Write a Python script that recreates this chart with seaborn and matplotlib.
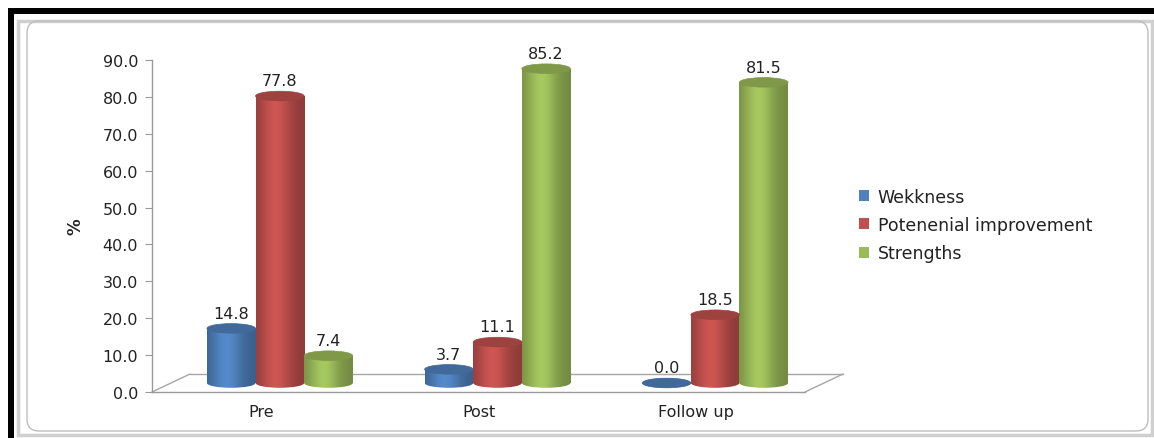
import numpy as np
import pandas as pd
import seaborn as sns
import matplotlib.pyplot as plt
import matplotlib.transforms as mtransforms
from matplotlib.patches import Ellipse, Rectangle, FancyBboxPatch
from matplotlib.lines import Line2D
from matplotlib.colors import to_rgb

# data
stages = ["Pre", "Post", "Follow up"]
groups = ["Wekkness", "Potenenial improvement", "Strengths"]
weakness = [14.8, 3.7, 0.0]
potential = [77.8, 11.1, 18.5]
strengths = [7.4, 85.2, 81.5]
colors = ["#4F81BD", "#C0504D", "#9BBB59"]

df = pd.DataFrame({
    "stage": stages * 3,
    "group": [groups[0]] * 3 + [groups[1]] * 3 + [groups[2]] * 3,
    "value": weakness + potential + strengths,
})

sns.set_style("white")
plt.rcParams['font.family'] = ['DejaVu Sans']

fig = plt.figure(figsize=(11.54, 4.39), dpi=100)
fig.patch.set_facecolor('white')
ax = fig.add_axes([152 / 1154, 1 - 393 / 439, 653 / 1154, 332 / 439])

sns.barplot(data=df, x="stage", y="value", hue="group", order=stages,
            hue_order=groups, palette=colors, width=0.67, gap=0,
            legend=False, ax=ax)

txt = '#222222'
ax.set_ylim(0, 90)
ax.set_xlim(-0.5, 2.5)
ax.set_yticks(np.arange(0, 91, 10))
ax.set_yticklabels([f"{v:.1f}" for v in np.arange(0, 91, 10)], fontsize=11.5, color=txt)
ax.set_xticks([0, 1, 2])
ax.set_xticklabels(stages, fontsize=11.5, color=txt)
ax.set_xticks([-0.5, 0.5, 1.5, 2.5], minor=True)
ax.tick_params(axis='x', which='major', length=0, pad=9)
ax.tick_params(axis='x', which='minor', length=5, color='#999999', direction='out')
ax.tick_params(axis='y', length=5, color='#999999', direction='out', left=True, pad=5)
ax.set_xlabel("")
ax.set_ylabel("%", fontsize=12, fontweight='bold', labelpad=13)
for s in ['top', 'right']:
    ax.spines[s].set_visible(False)
for s in ['left', 'bottom']:
    ax.spines[s].set_color('#999999')
    ax.spines[s].set_linewidth(1.0)

# 3-D floor
dx, dy = 38 / 653, 18 / 332
floor_kw = dict(transform=ax.transAxes, color='#a6a6a6', lw=1.0, clip_on=False)
ax.add_line(Line2D([0, dx], [0, dy], **floor_kw))
ax.add_line(Line2D([dx, 1 + dx], [dy, dy], **floor_kw))
ax.add_line(Line2D([1, 1 + dx], [0, dy], **floor_kw))

# cylinders sit at mid depth of the floor
trans = ax.transData + mtransforms.ScaledTranslation(0.19, 0.09, fig.dpi_scale_trans)
cap = 2.6  # ellipse height in data units

def shade(base, n=64):
    t = np.linspace(0, 1, n)
    f = 0.72 + 0.33 * np.exp(-((t - 0.4) / 0.32) ** 2)
    rgb = np.clip(np.array(to_rgb(base))[None, :] * f[:, None] * 1.02, 0, 1)
    return rgb[None, :, :]

for cont, col in zip(ax.containers, colors):
    grad = shade(col)
    top_col = tuple(np.clip(np.array(to_rgb(col)) * 0.82, 0, 1))
    for bar in cont:
        x0, w, h = bar.get_x(), bar.get_width(), bar.get_height()
        cx = x0 + w / 2
        bar.set_transform(trans)
        bar.set_facecolor('none')
        bar.set_edgecolor('none')
        # rounded bottom
        bot = Ellipse((cx, 0), w, cap, transform=trans, facecolor='none', edgecolor='none')
        ax.add_patch(bot)
        im = ax.imshow(grad, extent=(x0, x0 + w, -cap / 2, cap / 2), aspect='auto',
                       transform=trans, zorder=2, interpolation='bilinear')
        im.set_clip_path(bot)
        if h > 0:
            im2 = ax.imshow(grad, extent=(x0, x0 + w, 0, h), aspect='auto',
                            transform=trans, zorder=2, interpolation='bilinear')
            im2.set_clip_path(bar)
        ax.add_patch(Ellipse((cx, h), w, cap, transform=trans, facecolor=top_col,
                             edgecolor=top_col, lw=0.5, zorder=3))
        ax.text(cx, h + cap / 2 + 0.8, f"{h:.1f}", transform=trans, ha='center',
                va='bottom', fontsize=11.5, color=txt, zorder=4)

ax.set_xlim(-0.5, 2.5)
ax.set_ylim(0, 90)

# legend
handles = [Rectangle((0, 0), 1, 1, facecolor=c, edgecolor='none') for c in colors]
fig.legend(handles, groups, loc='center left', bbox_to_anchor=(843 / 1154, 1 - 226 / 439),
           frameon=False, fontsize=12.5, handlelength=0.6, handleheight=0.6,
           handletextpad=0.5, labelspacing=0.6, labelcolor=txt)

# frames: black band, selection frame and rounded chart area
fig.patches.append(Rectangle((8 / 1154, 0), 6 / 1154, 1 - 9 / 439, transform=fig.transFigure,
                             facecolor='black', edgecolor='none'))
fig.patches.append(Rectangle((8 / 1154, 1 - 15 / 439), 1 - 8 / 1154, 6 / 439,
                             transform=fig.transFigure, facecolor='black', edgecolor='none'))
fig.patches.append(Rectangle((18 / 1154, 3 / 439), 1134 / 1154, 414 / 439,
                             transform=fig.transFigure, facecolor='none',
                             edgecolor='#d0d0d0', lw=2.5))
fig.patches.append(FancyBboxPatch((0.27, 0.07), 11.21, 4.10,
                                  boxstyle='round,pad=0,rounding_size=0.12',
                                  transform=fig.dpi_scale_trans, facecolor='none',
                                  edgecolor='#bdbdbd', lw=1.0))

plt.savefig("out.png", dpi=100)
